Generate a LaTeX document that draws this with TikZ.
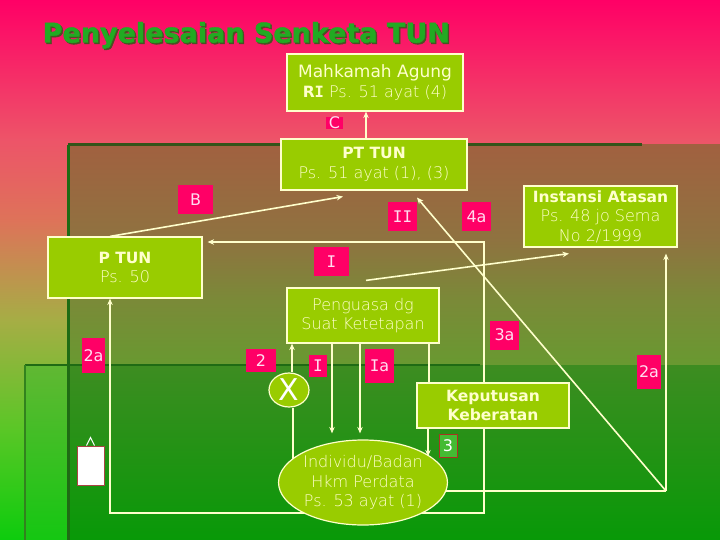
\documentclass[tikz,border=0pt]{standalone}
\usepackage{fontspec}
\setmainfont{DejaVu Sans}
\IfFontExistsTF{DejaVu Sans ExtraLight}{\newfontfamily\lightf{DejaVu Sans ExtraLight}}{\newfontfamily\lightf{DejaVu Sans}}
\newfontfamily\monof{DejaVu Sans Mono}
\newfontfamily\titlef{DejaVu Sans Bold}[FakeBold=1.5]
\usetikzlibrary{arrows.meta,shapes.geometric}
\definecolor{boxg}{HTML}{99CC00}
\definecolor{cream}{HTML}{FFFFCC}
\definecolor{mag}{HTML}{FF0066}
\definecolor{labtxt}{HTML}{FFDDF0}
\definecolor{titleg}{HTML}{22AA22}
\definecolor{titlesh}{HTML}{4A5222}
\definecolor{gtop}{rgb}{0.24,0.55,0.13}
\definecolor{gbot}{rgb}{0.03,0.6,0.03}
\definecolor{gltop}{rgb}{0.38,0.72,0.2}
\definecolor{glbot}{rgb}{0.08,0.78,0.07}
\definecolor{edgeA}{rgb}{0.12,0.42,0.08}
\definecolor{edgeB}{rgb}{0.2,0.33,0.1}
\definecolor{lab3f}{HTML}{44BB33}
\definecolor{lab3d}{HTML}{AA3322}
\definecolor{wrd}{HTML}{AA4444}
\pgfdeclarelayer{bg}
\pgfdeclarelayer{lines}
\pgfsetlayers{bg,lines,main}
\pgfdeclareverticalshading{bgsh}{100bp}{rgb(0bp)=(0.05,0.8,0.05); rgb(25bp)=(0.05,0.8,0.05); rgb(35.19bp)=(0.35,0.78,0.15); rgb(45.37bp)=(0.65,0.68,0.27); rgb(54.63bp)=(0.87,0.45,0.35); rgb(62.04bp)=(0.93,0.33,0.41); rgb(75bp)=(1,0,0.4); rgb(100bp)=(1,0,0.4)}
\pgfdeclareverticalshading{brsh}{100bp}{rgb(0bp)=(0.41,0.6,0.19); rgb(25bp)=(0.41,0.6,0.19); rgb(39.8bp)=(0.48,0.54,0.22); rgb(53.4bp)=(0.56,0.45,0.25); rgb(75bp)=(0.63,0.38,0.25); rgb(100bp)=(0.63,0.38,0.25)}
\newcommand\btx{\rmfamily\bfseries\fontsize{15.5}{19.5}\selectfont}
\newcommand\rtx{\rmfamily\fontsize{17}{19.5}\selectfont}
\tikzset{
  box/.style={draw=cream, line width=1.2pt, fill=boxg, text=cream, align=center, inner sep=0pt, font=\lightf\fontsize{16}{19.5}\selectfont},
  lab/.style={fill=mag, text=labtxt, inner sep=0pt, font=\fontsize{16}{16}\selectfont},
  conn/.style={draw=cream, line width=1.6pt},
  arr/.style={conn, -{Stealth[length=6.5pt,width=5.5pt]}}
}
\begin{document}
\begin{tikzpicture}[x=1pt,y=-1pt]
\useasboundingbox (0,0) rectangle (720,540);
\begin{pgfonlayer}{bg}
\shade[shading=bgsh] (0,0) rectangle (720,540);
\shade[shading=brsh] (68,145) rectangle (720,365);
\shade[top color=gltop, bottom color=glbot] (25,365) rectangle (68,540);
\shade[top color=gtop, bottom color=gbot] (68,365) rectangle (720,540);
\draw[edgeB, line width=3pt] (68,145) -- (642,145);
\draw[edgeA, line width=3pt] (68,145) -- (68,540);
\draw[edgeA, line width=2.5pt] (25,365) -- (480,365);
\draw[edgeA!70!gltop, line width=2pt] (25,365) -- (25,540);
\end{pgfonlayer}

% title
\node[anchor=base west, text=titlesh, inner sep=0pt, font=\titlef\fontsize{27}{27}\selectfont] (tsh) at (44,44) {Penyelesaian Senketa TUN};
\node[anchor=base west, text=titleg, inner sep=0pt, font=\titlef\fontsize{27}{27}\selectfont] (title) at (42.5,42.5) {Penyelesaian Senketa TUN};

% boxes
\node[box, minimum width=176pt, minimum height=57pt] (MA) at (375,82.5) {{\rtx Mahkamah Agung}\\{\btx R{\monof I}} Ps. 51 ayat (4)};
\node[box, minimum width=186pt, minimum height=51pt] (PT) at (374,164.5) {{\btx PT TUN}\\Ps. 51 ayat (1), (3)};
\node[box, minimum width=154pt, minimum height=61pt] (PTUN) at (125,267.5) {{\btx P TUN}\\Ps. 50};
\node[box, minimum width=153pt, minimum height=61pt] (IA) at (600.5,216.5) {{\btx Instansi Atasan}\\Ps. 48 jo Sema\\No 2/1999};
\node[box, minimum width=152pt, minimum height=55pt] (PEN) at (363,315.5) {Penguasa dg\\Suat Ketetapan};
\node[box, minimum width=152pt, minimum height=45pt] (KK) at (493,405.5) {{\btx Keputusan}\\{\btx Keberatan}};
\node[box, ellipse, minimum width=152pt, minimum height=85pt] (IND) at (363,482.5) {Individu/Badan\\Hkm Perdata\\Ps. 53 ayat (1)};
\node[box, ellipse, minimum width=40pt, minimum height=34pt, font=\rmfamily\fontsize{30}{30}\selectfont, text=white] (X) at (289,390) {X};
\node[draw=wrd, line width=0.8pt, fill=white, minimum width=27pt, minimum height=39pt, inner sep=0pt] (wr) at (90.5,465.5) {};
\draw[white, line width=1pt] ([xshift=-4pt]wr.north) -- ++(4,-8) -- ++(4,8);

% labels
\node[lab, minimum width=17pt, minimum height=12pt] (lC) at (334.5,123) {C};
\node[lab, minimum width=35pt, minimum height=29pt] (lB) at (195.5,199.5) {B};
\node[lab, minimum width=29pt, minimum height=29pt] (lII) at (402.5,216.5) {\monof II};
\node[lab, minimum width=29pt, minimum height=29pt] (l4a) at (476.5,216.5) {4a};
\node[lab, minimum width=35pt, minimum height=29pt] (lI) at (331.5,261.5) {\monof I};
\node[lab, minimum width=29pt, minimum height=29pt] (l3a) at (504.5,335) {3a};
\node[lab, minimum width=23pt, minimum height=35pt] (l2aL) at (93.5,355.5) {2a};
\node[lab, minimum width=24pt, minimum height=34pt] (l2aR) at (649,372) {2a};
\node[lab, minimum width=30pt, minimum height=23pt] (l2) at (261,360.5) {2};
\node[lab, minimum width=18pt, minimum height=22pt] (lIs) at (318,366) {\monof I};
\node[lab, minimum width=29pt, minimum height=34pt] (lIa) at (379.5,366) {{\monof I}a};
\node[lab, fill=lab3f, draw=lab3d, line width=0.8pt, text=white, minimum width=18pt, minimum height=23pt] (l3) at (448,445.5) {3};

\coordinate (corner) at (666,491);
\coordinate (loopTR) at (484,242);

\begin{pgfonlayer}{lines}
\draw[arr] ([xshift=-8pt]PT.north) -- ([xshift=-9pt]MA.south);
\draw[arr] ([xshift=-15pt]PTUN.north) -- ([xshift=-31pt,yshift=-6pt]PT.south);
\draw[arr] (corner) -- ([xshift=43pt,yshift=-7pt]PT.south);
\draw[arr] ([xshift=3pt,yshift=7pt]PEN.north) -- ([xshift=-31.5pt,yshift=-6pt]IA.south);
\draw[arr] (corner) -- ([xshift=65.5pt,yshift=-6pt]IA.south);
\draw[conn] ([yshift=-8.5pt]IND.center) -- (corner);
\draw[arr] ([yshift=-30.5pt]IND.center) -| ([xshift=-15pt]PTUN.south);
\draw[arr] ([yshift=-30.5pt]IND.center) -| (loopTR) -- ([xshift=5pt,yshift=25.5pt]PTUN.east);
\draw[arr] ([xshift=3pt]X.north) -- ([xshift=-71pt]PEN.south);
\draw[conn] ([xshift=4pt]X.south) -- ([xshift=-70pt]IND.center);
\draw[arr] ([xshift=-31pt]PEN.south) -- ([xshift=-31pt,yshift=6pt]IND.north);
\draw[arr] ([xshift=-3pt]PEN.south) -- ([xshift=-3pt,yshift=6pt]IND.north);
\draw[conn] ([xshift=66pt]PEN.south) -- ([xshift=-64pt]KK.north);
\draw[arr] ([xshift=-65pt]KK.south) -- ([xshift=65pt,yshift=-17pt]IND.north);
\end{pgfonlayer}
\end{tikzpicture}
\end{document}
